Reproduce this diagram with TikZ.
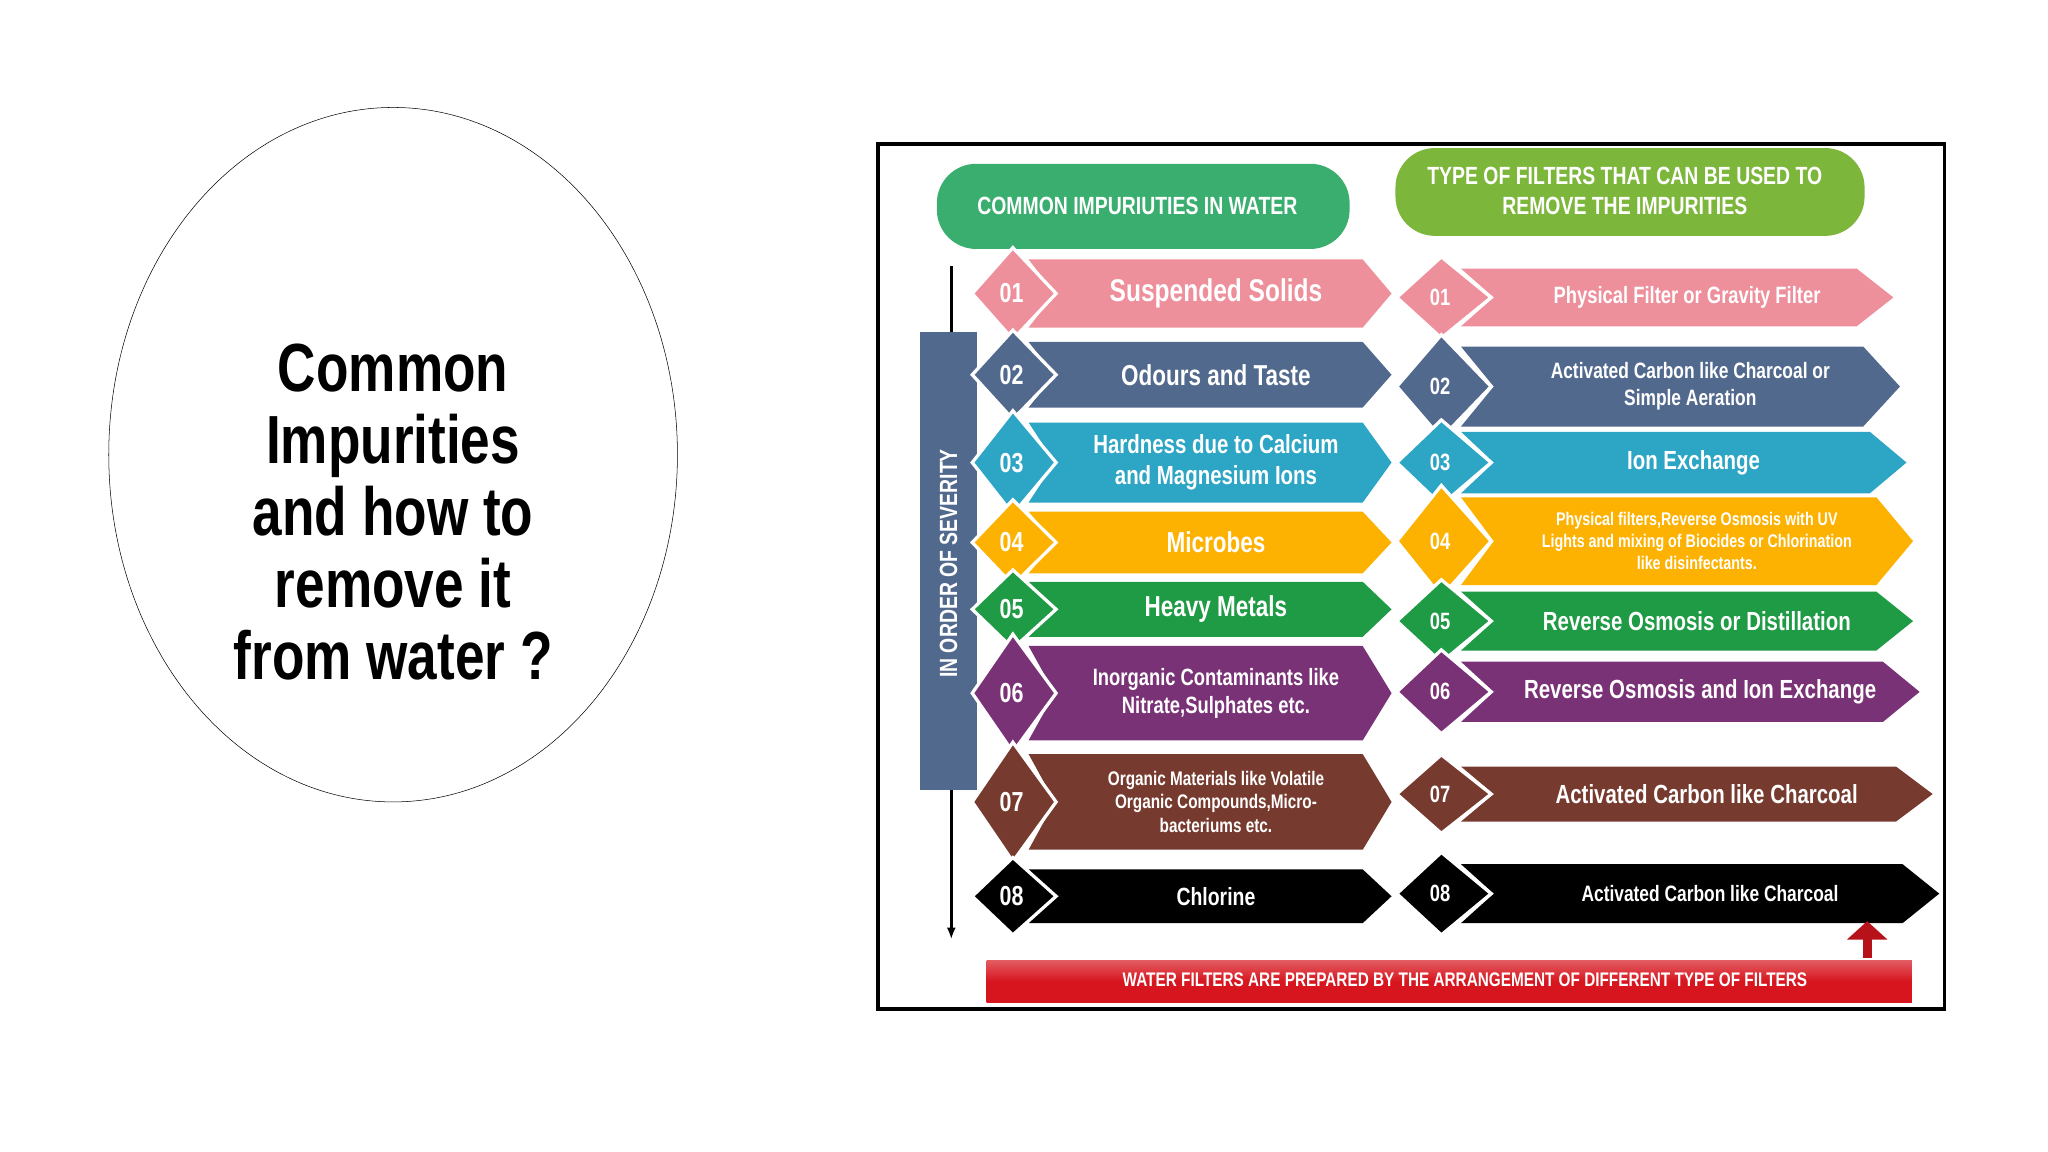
\documentclass[tikz,border=0pt]{standalone}
\usepackage{fontspec}
\setmainfont{Liberation Sans}
\newfontfamily\cond{Liberation Sans}[FakeStretch=0.78]
\usetikzlibrary{shapes.geometric,arrows.meta}
\definecolor{cPink}{HTML}{EE8F9C}
\definecolor{cSlate}{HTML}{52698E}
\definecolor{cTeal}{HTML}{2DA5C5}
\definecolor{cOrange}{HTML}{FDB100}
\definecolor{cGreen}{HTML}{1F9A45}
\definecolor{cPurple}{HTML}{7A3276}
\definecolor{cBrown}{HTML}{773A2E}
\definecolor{cHeadA}{HTML}{3AAE6E}
\definecolor{cHeadB}{HTML}{7CB63A}
\definecolor{cRed}{HTML}{D7151E}
\newcommand\fsz[1]{\fontsize{#1}{#1}\selectfont\baselineskip=1.2em\relax}
\begin{document}
\begin{tikzpicture}[x=1pt,y=-1pt]
    \tikzset{
        label/.style={text=white, font=\cond\bfseries, align=center},
        head/.style={label, font=\cond\bfseries\fsz{19}},
        gem/.style={draw=white, line width=2.5pt},
    }
    \useasboundingbox (0,0) rectangle (1563,879);
    % left title
    \node[ellipse, draw, thin, minimum width=434pt, minimum height=530pt] (title) at (300,347) {};
    \node[font=\cond\bfseries\fontsize{52}{55}\selectfont, align=center] (titletext) at (300,391) {Common\\Impurities\\and how to\\remove it\\from water ?};
    % frame
    \draw[line width=3pt] (670,110) rectangle (1484,770);
    % headers
    \fill[cHeadA, rounded corners=30pt] (715,125) rectangle (1030,190);
    \node[head] (headA) at (868,157) {COMMON IMPURIUTIES IN WATER};
    \fill[cHeadB, rounded corners=30pt] (1065,113) rectangle (1423,180);
    \node[head] (headB) at (1240,146) {TYPE OF FILTERS THAT CAN BE USED TO\\REMOVE THE IMPURITIES};
    % severity bar
    \coordinate (sevtop) at (726,203);
    \coordinate (sevbot) at (726,717);
    \draw[line width=2pt, -{Latex[length=9pt]}] (sevtop) -- (sevbot);
    \fill[cSlate] (702,253) rectangle (746,603);
    \node[label, rotate=90, font=\cond\bfseries\fsz{19}] (severity) at (724,430) {IN ORDER OF SEVERITY};
    % impurities
    \foreach \n/\yc/\hh/\col/\fs/\txt in {
        01/224/52/cPink/24/{Suspended Solids},
        02/286/50/cSlate/22/{Odours and Taste},
        03/353/61/cTeal/20/{Hardness due to Calcium\\and Magnesium Ions},
        04/414/47/cOrange/22/{Microbes},
        05/465/42/cGreen/22/{Heavy Metals},
        06/529/72/cPurple/18/{Inorganic Contaminants like\\Nitrate,Sulphates etc.},
        07/612/73/cBrown/15/{Organic Materials like Volatile\\Organic Compounds,Micro-\\bacteriums etc.},
        08/684/41/black/19/{Chlorine}}{
        \fill[\col] (785,{\yc-\hh/2}) -- (1040,{\yc-\hh/2}) -- (1062,\yc) -- (1040,{\yc+\hh/2}) -- (785,{\yc+\hh/2}) -- (805,\yc) -- cycle;
        \filldraw[\col, gem] (742,\yc) -- (773,{\yc-\hh/2-9}) -- (806,\yc) -- (773,{\yc+\hh/2+9}) -- cycle;
        \node[label, font=\cond\bfseries\fsz{21}] (num-\n) at (772,\yc) {\n};
        \node[label, font=\cond\bfseries\fsz{\fs}] (imp-\n) at (928,\yc) {\txt};
    }
    % filters
    \foreach \n/\yc/\hh/\xe/\col/\fs/\txt in {
        01/227/44/1445/cPink/18/{Physical Filter or Gravity Filter},
        02/295/61/1450/cSlate/17/{Activated Carbon like Charcoal or\\Simple Aeration},
        03/353/47/1455/cTeal/20/{Ion Exchange},
        04/413/67/1460/cOrange/14/{Physical filters,Reverse Osmosis with UV\\Lights and mixing of Biocides or Chlorination\\like disinfectants.},
        05/474/45/1460/cGreen/20/{Reverse Osmosis or Distillation},
        06/528/46/1465/cPurple/20/{Reverse Osmosis and Ion Exchange},
        07/606/42/1475/cBrown/20/{Activated Carbon like Charcoal},
        08/682/45/1480/black/17/{Activated Carbon like Charcoal}}{
        \fill[\col] (1115,{\yc-\hh/2}) -- ({\xe-28},{\yc-\hh/2}) -- (\xe,\yc) -- ({\xe-28},{\yc+\hh/2}) -- (1115,{\yc+\hh/2}) -- (1140,\yc) -- cycle;
        \filldraw[\col, gem] (1066,\yc) -- (1100,{\yc-\hh/2-9}) -- (1138,\yc) -- (1100,{\yc+\hh/2+9}) -- cycle;
        \node[label, font=\cond\bfseries\fsz{18}] (fnum-\n) at (1099,\yc) {\n};
        \node[label, font=\cond\bfseries\fsz{\fs}] (fil-\n) at ({(1130+\xe)/2},\yc) {\txt};
    }
    % bottom banner
    \shade[top color=cRed!70, bottom color=cRed, middle color=cRed] (753,733) rectangle (1459,765);
    \node[label, font=\cond\bfseries\fsz{15}] (banner) at (1118,748) {WATER FILTERS ARE PREPARED BY THE ARRANGEMENT OF DIFFERENT TYPE OF FILTERS};
    \coordinate (upbot) at (1425,731);
    \coordinate (uptop) at (1425,703);
    \draw[cRed!85!black, line width=7pt, -{Triangle[length=14pt,width=30pt]}] (upbot) -- (uptop);
\end{tikzpicture}
\end{document}
